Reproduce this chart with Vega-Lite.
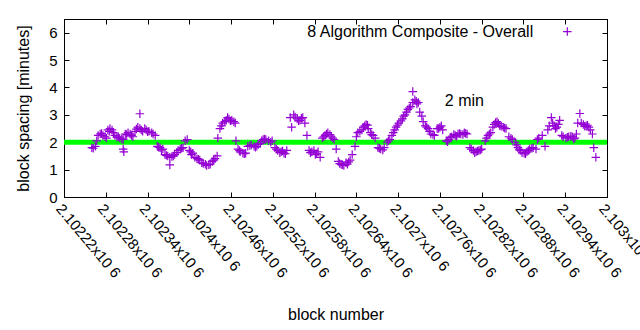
{
  "$schema": "https://vega.github.io/schema/vega-lite/v6.json",
  "autosize": {"type": "none"},
  "width": 543,
  "height": 178,
  "padding": {"left": 64, "top": 19, "right": 33, "bottom": 133},
  "background": "white",
  "config": {
    "view": {"stroke": "black", "strokeWidth": 1},
    "font": "Liberation Sans",
    "axis": {
      "domainColor": "black", "tickColor": "black", "labelColor": "black", "titleColor": "black",
      "grid": false, "tickSize": -5, "labelFont": "Liberation Sans", "titleFont": "Liberation Sans",
      "labelFontSize": 15, "titleFontSize": 16, "titleFontWeight": "normal"
    }
  },
  "datasets": {
    "pts": [
      {"block":2102260,"spacing":1.80},{"block":2102265,"spacing":1.85},{"block":2102269,"spacing":2.25},{"block":2102272,"spacing":2.30},
      {"block":2102276,"spacing":2.25},{"block":2102279,"spacing":2.20},{"block":2102283,"spacing":2.45},{"block":2102286,"spacing":2.50},
      {"block":2102289,"spacing":2.45},{"block":2102293,"spacing":2.25},{"block":2102298,"spacing":2.20},{"block":2102300,"spacing":2.15},
      {"block":2102305,"spacing":1.75},{"block":2102305,"spacing":2.10},{"block":2102306,"spacing":1.65},{"block":2102308,"spacing":2.30},{"block":2102312,"spacing":2.35},
      {"block":2102315,"spacing":2.30},{"block":2102319,"spacing":2.20},{"block":2102322,"spacing":2.40},{"block":2102326,"spacing":2.55},
      {"block":2102329,"spacing":3.04},{"block":2102329,"spacing":2.50},{"block":2102333,"spacing":2.40},{"block":2102338,"spacing":2.45},
      {"block":2102342,"spacing":2.40},{"block":2102346,"spacing":2.35},{"block":2102351,"spacing":2.25},{"block":2102354,"spacing":1.85},
      {"block":2102358,"spacing":1.80},{"block":2102362,"spacing":1.75},{"block":2102365,"spacing":1.55},{"block":2102369,"spacing":1.50},
      {"block":2102372,"spacing":1.45},{"block":2102372,"spacing":1.17},{"block":2102377,"spacing":1.50},{"block":2102379,"spacing":1.55},
      {"block":2102384,"spacing":1.70},{"block":2102387,"spacing":1.75},{"block":2102391,"spacing":1.80},{"block":2102394,"spacing":2.05},
      {"block":2102397,"spacing":2.10},{"block":2102400,"spacing":1.70},{"block":2102402,"spacing":1.65},{"block":2102405,"spacing":1.60},
      {"block":2102408,"spacing":1.45},{"block":2102411,"spacing":1.40},{"block":2102415,"spacing":1.35},{"block":2102418,"spacing":1.25},
      {"block":2102423,"spacing":1.20},{"block":2102425,"spacing":1.15},{"block":2102430,"spacing":1.20},{"block":2102433,"spacing":1.30},
      {"block":2102437,"spacing":1.40},{"block":2102440,"spacing":1.50},{"block":2102441,"spacing":2.15},{"block":2102444,"spacing":2.50},
      {"block":2102448,"spacing":2.70},{"block":2102453,"spacing":2.80},{"block":2102457,"spacing":2.85},{"block":2102461,"spacing":2.80},
      {"block":2102466,"spacing":2.70},{"block":2102467,"spacing":2.05},{"block":2102470,"spacing":1.75},{"block":2102473,"spacing":1.65},
      {"block":2102477,"spacing":1.60},{"block":2102481,"spacing":1.60},{"block":2102484,"spacing":1.85},{"block":2102489,"spacing":1.90},
      {"block":2102493,"spacing":1.85},{"block":2102497,"spacing":1.85},{"block":2102502,"spacing":1.95},{"block":2102506,"spacing":2.10},
      {"block":2102510,"spacing":2.10},{"block":2102514,"spacing":2.05},{"block":2102519,"spacing":2.05},{"block":2102523,"spacing":1.80},
      {"block":2102527,"spacing":1.70},{"block":2102532,"spacing":1.65},{"block":2102536,"spacing":1.60},{"block":2102540,"spacing":1.70},
      {"block":2102545,"spacing":2.90},{"block":2102547,"spacing":2.55},{"block":2102550,"spacing":3.00},{"block":2102555,"spacing":2.85},
      {"block":2102559,"spacing":2.80},{"block":2102563,"spacing":2.90},{"block":2102566,"spacing":2.70},{"block":2102569,"spacing":2.25},
      {"block":2102572,"spacing":1.70},{"block":2102576,"spacing":1.65},{"block":2102581,"spacing":1.55},{"block":2102585,"spacing":1.65},
      {"block":2102588,"spacing":1.45},{"block":2102591,"spacing":2.15},{"block":2102595,"spacing":2.25},{"block":2102599,"spacing":2.35},
      {"block":2102604,"spacing":2.20},{"block":2102608,"spacing":2.10},{"block":2102611,"spacing":1.75},{"block":2102614,"spacing":1.30},
      {"block":2102618,"spacing":1.20},{"block":2102622,"spacing":1.15},{"block":2102627,"spacing":1.20},{"block":2102631,"spacing":1.35},
      {"block":2102634,"spacing":1.55},{"block":2102638,"spacing":1.85},{"block":2102642,"spacing":2.35},{"block":2102645,"spacing":2.40},
      {"block":2102650,"spacing":2.55},{"block":2102654,"spacing":2.65},{"block":2102657,"spacing":2.50},{"block":2102660,"spacing":2.35},
      {"block":2102664,"spacing":2.25},{"block":2102667,"spacing":2.15},{"block":2102671,"spacing":1.80},{"block":2102675,"spacing":1.75},
      {"block":2102680,"spacing":1.80},{"block":2102684,"spacing":2.00},{"block":2102688,"spacing":2.10},{"block":2102693,"spacing":2.35},
      {"block":2102697,"spacing":2.55},{"block":2102701,"spacing":2.70},{"block":2102706,"spacing":2.85},{"block":2102710,"spacing":3.00},
      {"block":2102714,"spacing":3.20},{"block":2102718,"spacing":3.30},{"block":2102721,"spacing":3.85},{"block":2102721,"spacing":3.45},
      {"block":2102726,"spacing":3.50},{"block":2102729,"spacing":3.45},{"block":2102731,"spacing":3.10},{"block":2102734,"spacing":2.95},
      {"block":2102739,"spacing":2.60},{"block":2102743,"spacing":2.50},{"block":2102747,"spacing":2.30},{"block":2102752,"spacing":2.25},
      {"block":2102756,"spacing":2.50},{"block":2102760,"spacing":2.55},{"block":2102764,"spacing":2.45},{"block":2102769,"spacing":2.05},
      {"block":2102773,"spacing":2.10},{"block":2102777,"spacing":2.20},{"block":2102782,"spacing":2.25},{"block":2102786,"spacing":2.30},
      {"block":2102790,"spacing":2.30},{"block":2102795,"spacing":2.35},{"block":2102799,"spacing":2.30},{"block":2102803,"spacing":1.80},
      {"block":2102808,"spacing":1.70},{"block":2102812,"spacing":1.65},{"block":2102816,"spacing":1.70},{"block":2102820,"spacing":1.75},
      {"block":2102825,"spacing":2.05},{"block":2102829,"spacing":2.25},{"block":2102833,"spacing":2.35},{"block":2102838,"spacing":2.65},
      {"block":2102842,"spacing":2.75},{"block":2102846,"spacing":2.60},{"block":2102851,"spacing":2.55},{"block":2102855,"spacing":2.50},
      {"block":2102859,"spacing":2.20},{"block":2102864,"spacing":2.10},{"block":2102868,"spacing":2.00},{"block":2102872,"spacing":1.80},
      {"block":2102876,"spacing":1.70},{"block":2102881,"spacing":1.60},{"block":2102885,"spacing":1.65},{"block":2102889,"spacing":1.75},
      {"block":2102894,"spacing":1.80},{"block":2102898,"spacing":1.75},{"block":2102902,"spacing":2.15},{"block":2102907,"spacing":2.25},
      {"block":2102911,"spacing":1.85},{"block":2102915,"spacing":2.45},{"block":2102920,"spacing":2.90},{"block":2102924,"spacing":2.60},
      {"block":2102928,"spacing":2.55},{"block":2102932,"spacing":2.80},{"block":2102937,"spacing":2.20},{"block":2102941,"spacing":2.15},
      {"block":2102945,"spacing":2.20},{"block":2102950,"spacing":2.20},{"block":2102954,"spacing":2.15},{"block":2102958,"spacing":2.70},
      {"block":2102961,"spacing":3.05},{"block":2102966,"spacing":2.65},{"block":2102970,"spacing":2.60},{"block":2102974,"spacing":2.55},
      {"block":2102979,"spacing":2.30},{"block":2102981,"spacing":1.80},{"block":2102984,"spacing":1.45},
      {"block":2102262,"spacing":1.78},{"block":2102267,"spacing":2.05},{"block":2102274,"spacing":2.32},{"block":2102281,"spacing":2.15},
      {"block":2102285,"spacing":2.40},{"block":2102291,"spacing":2.35},{"block":2102296,"spacing":2.18},{"block":2102303,"spacing":2.12},
      {"block":2102310,"spacing":2.28},{"block":2102317,"spacing":2.25},{"block":2102324,"spacing":2.48},{"block":2102331,"spacing":2.45},
      {"block":2102336,"spacing":2.50},{"block":2102340,"spacing":2.38},{"block":2102348,"spacing":2.30},{"block":2102356,"spacing":1.82},
      {"block":2102360,"spacing":1.72},{"block":2102367,"spacing":1.52},{"block":2102375,"spacing":1.48},{"block":2102382,"spacing":1.62},
      {"block":2102389,"spacing":1.78},{"block":2102403,"spacing":1.55},{"block":2102413,"spacing":1.38},{"block":2102420,"spacing":1.22},
      {"block":2102428,"spacing":1.18},{"block":2102435,"spacing":1.35},{"block":2102446,"spacing":2.60},{"block":2102451,"spacing":2.75},
      {"block":2102455,"spacing":2.90},{"block":2102459,"spacing":2.78},{"block":2102464,"spacing":2.75},{"block":2102472,"spacing":1.70},
      {"block":2102479,"spacing":1.58},{"block":2102487,"spacing":1.88},{"block":2102495,"spacing":1.82},{"block":2102499,"spacing":1.92},
      {"block":2102504,"spacing":2.05},{"block":2102508,"spacing":2.12},{"block":2102517,"spacing":2.00},{"block":2102525,"spacing":1.75},
      {"block":2102530,"spacing":1.62},{"block":2102534,"spacing":1.68},{"block":2102538,"spacing":1.58},{"block":2102552,"spacing":2.92},
      {"block":2102557,"spacing":2.78},{"block":2102561,"spacing":2.88},{"block":2102574,"spacing":1.62},{"block":2102579,"spacing":1.70},
      {"block":2102583,"spacing":1.58},{"block":2102593,"spacing":2.20},{"block":2102597,"spacing":2.30},{"block":2102602,"spacing":2.28},
      {"block":2102606,"spacing":2.15},{"block":2102616,"spacing":1.22},{"block":2102620,"spacing":1.18},{"block":2102625,"spacing":1.25},
      {"block":2102629,"spacing":1.28},{"block":2102640,"spacing":2.20},{"block":2102648,"spacing":2.45},{"block":2102652,"spacing":2.60},
      {"block":2102656,"spacing":2.62},{"block":2102662,"spacing":2.28},{"block":2102673,"spacing":1.78},{"block":2102678,"spacing":1.72},
      {"block":2102686,"spacing":2.05},{"block":2102691,"spacing":2.25},{"block":2102695,"spacing":2.45},{"block":2102699,"spacing":2.62},
      {"block":2102704,"spacing":2.78},{"block":2102708,"spacing":2.95},{"block":2102712,"spacing":3.10},{"block":2102716,"spacing":3.25},
      {"block":2102724,"spacing":3.55},{"block":2102727,"spacing":3.40},{"block":2102736,"spacing":2.75},{"block":2102741,"spacing":2.55},
      {"block":2102745,"spacing":2.40},{"block":2102750,"spacing":2.28},{"block":2102758,"spacing":2.50},{"block":2102762,"spacing":2.60},
      {"block":2102771,"spacing":2.02},{"block":2102775,"spacing":2.18},{"block":2102780,"spacing":2.28},{"block":2102784,"spacing":2.22},
      {"block":2102788,"spacing":2.32},{"block":2102793,"spacing":2.28},{"block":2102797,"spacing":2.32},{"block":2102805,"spacing":1.75},
      {"block":2102810,"spacing":1.62},{"block":2102814,"spacing":1.68},{"block":2102818,"spacing":1.72},{"block":2102827,"spacing":2.15},
      {"block":2102831,"spacing":2.30},{"block":2102836,"spacing":2.55},{"block":2102840,"spacing":2.72},{"block":2102844,"spacing":2.68},
      {"block":2102848,"spacing":2.58},{"block":2102853,"spacing":2.52},{"block":2102862,"spacing":2.15},{"block":2102870,"spacing":1.90},
      {"block":2102874,"spacing":1.72},{"block":2102878,"spacing":1.62},{"block":2102883,"spacing":1.58},{"block":2102887,"spacing":1.70},
      {"block":2102892,"spacing":1.78},{"block":2102900,"spacing":2.10},{"block":2102917,"spacing":2.60},{"block":2102922,"spacing":2.70},
      {"block":2102926,"spacing":2.50},{"block":2102930,"spacing":2.65},{"block":2102935,"spacing":2.25},{"block":2102943,"spacing":2.18},
      {"block":2102948,"spacing":2.22},{"block":2102952,"spacing":2.12},{"block":2102956,"spacing":2.30},{"block":2102963,"spacing":2.70},
      {"block":2102968,"spacing":2.58},{"block":2102972,"spacing":2.62},{"block":2102976,"spacing":2.45}
    ],
    "target": [{"spacing": 2}],
    "keytext": [{"block": 2102894, "spacing": 6.04, "label": "8 Algorithm Composite - Overall"}],
    "keysym": [{"block": 2102943, "spacing": 6.04}],
    "note": [{"block": 2102767, "spacing": 3.51, "label": "2 min"}]
  },
  "resolve": {"axis": {"x": "independent", "y": "independent"}},
  "layer": [
    {
      "data": {"name": "target"},
      "mark": {"type": "rule", "stroke": "#00ff00", "strokeWidth": 5},
      "encoding": {"y": {"field": "spacing", "type": "quantitative", "axis": null}}
    },
    {
      "data": {"name": "pts"},
      "mark": {"type": "point", "shape": "M-1,0L1,0M0,-1L0,1", "filled": false, "stroke": "#9400d3", "strokeWidth": 1.2, "size": 72, "opacity": 1},
      "encoding": {
        "x": {"field": "block", "type": "quantitative",
              "scale": {"domain": [2102220, 2103000], "nice": false, "zero": false},
              "axis": {"orient": "bottom", "title": "block number", "values": [2102220,2102280,2102340,2102400,2102460,2102520,2102580,2102640,2102700,2102760,2102820,2102880,2102940,2103000],
                       "labelExpr": "format(datum.value / 1000000, '.7~g') + 'x10 6'",
                       "labelAngle": 50, "labelAlign": "left", "labelBaseline": "top", "labelPadding": 9, "titlePadding": 26, "labelOverlap": false, "labelFlush": false}},
        "y": {"field": "spacing", "type": "quantitative",
              "scale": {"domain": [0, 6.5], "nice": false},
              "axis": {"orient": "left", "title": "block spacing [minutes]", "values": [0,1,2,3,4,5,6], "labelPadding": 12, "titlePadding": 17}}
      }
    },
    {
      "data": {"name": "note"},
      "mark": {"type": "text", "align": "left", "baseline": "middle", "fontSize": 16, "font": "Liberation Sans", "color": "black"},
      "encoding": {
        "x": {"field": "block", "type": "quantitative", "axis": {"orient": "top", "labels": false, "title": null, "values": [2102220,2102280,2102340,2102400,2102460,2102520,2102580,2102640,2102700,2102760,2102820,2102880,2102940,2103000]}},
        "y": {"field": "spacing", "type": "quantitative", "axis": {"orient": "right", "labels": false, "title": null, "values": [0,1,2,3,4,5,6]}},
        "text": {"field": "label"}
      }
    },
    {
      "data": {"name": "keytext"},
      "mark": {"type": "text", "align": "right", "baseline": "middle", "fontSize": 16, "font": "Liberation Sans", "color": "black"},
      "encoding": {
        "x": {"field": "block", "type": "quantitative", "axis": null},
        "y": {"field": "spacing", "type": "quantitative", "axis": null},
        "text": {"field": "label"}
      }
    },
    {
      "data": {"name": "keysym"},
      "mark": {"type": "point", "shape": "M-1,0L1,0M0,-1L0,1", "filled": false, "stroke": "#9400d3", "strokeWidth": 1.2, "size": 72, "opacity": 1},
      "encoding": {
        "x": {"field": "block", "type": "quantitative", "axis": null},
        "y": {"field": "spacing", "type": "quantitative", "axis": null}
      }
    }
  ]
}
